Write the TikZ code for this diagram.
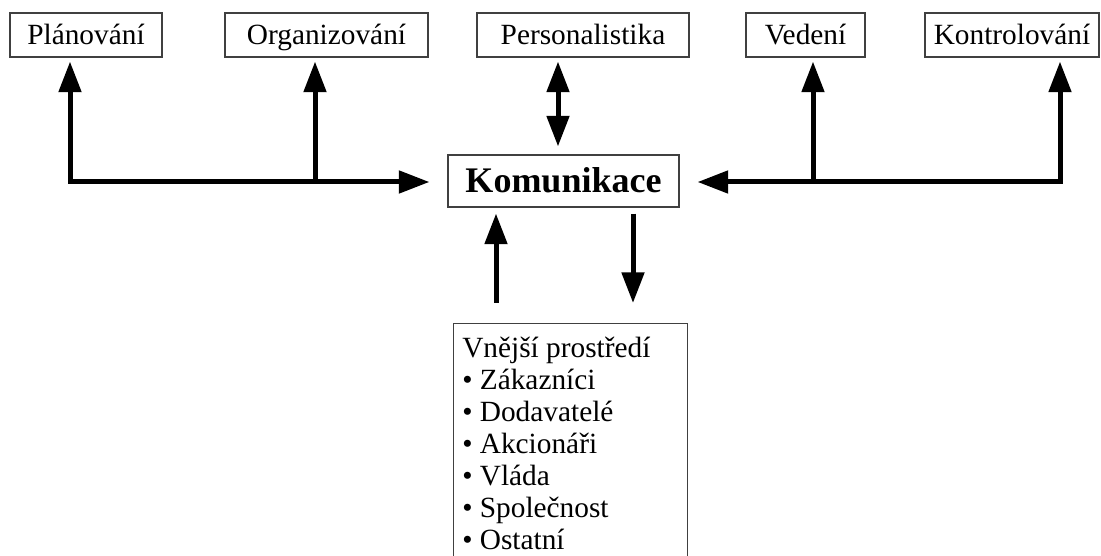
\documentclass[tikz,border=0pt]{standalone}
\usepackage{fontspec}
\setmainfont{Liberation Serif}
\usetikzlibrary{arrows.meta}

\begin{document}
\begin{tikzpicture}[x=0.75pt,y=-0.75pt,
	>={Triangle[length=23pt,width=16.5pt]},
	box/.style={draw=black!75, line width=0.8pt, inner sep=0pt, minimum height=33pt, text height=18pt, text depth=3pt, font=\fontsize{22}{24}\selectfont},
	flow/.style={line width=3.75pt, line join=miter}]
	\useasboundingbox (0,0) rectangle (1101,556);
	% function boxes
	\node (plan) [box, minimum width=114pt] at (86,35) {Plánování};
	\node (org) [box, minimum width=152.25pt] at (326.5,35) {Organizování};
	\node (pers) [box, minimum width=159pt] at (583,35) {Personalistika};
	\node (ved) [box, minimum width=89.25pt] at (805.5,35) {Vedení};
	\node (kontr) [box, minimum width=130.5pt] at (1012,35) {Kontrolování};
	\node (kom) [box, minimum width=173.25pt, minimum height=39pt, text height=20pt, text depth=2pt, font=\fontsize{27}{30}\selectfont\bfseries] at (563.5,181) {Komunikace};
	% outer environment
	\node (env) [box, minimum width=175.5pt, minimum height=190pt, anchor=north west] at (453,323) {};
	\node (envtxt) [anchor=north west, align=left, inner sep=0pt, font=\fontsize{22}{24}\selectfont] at (462,337)
		{Vnější prostředí\\ \textbullet\ Zákazníci\\ \textbullet\ Dodavatelé\\ \textbullet\ Akcionáři\\
		 \textbullet\ Vláda\\ \textbullet\ Společnost\\ \textbullet\ Ostatní};
	% junctions
	\coordinate (jp) at (70,182);
	\coordinate (jo) at (315,182);
	\coordinate (jv) at (813,182);
	\coordinate (jk) at (1060,182);
	\coordinate (xp) at (558,0);
	\coordinate (xu) at (496,0);
	\coordinate (xd) at (633,0);
	% arrows
	\draw [flow, <->, shorten <=3pt, shorten >=13.5pt] (jp |- plan.south) -- (jp) -- (jp -| kom.west);
	\draw [flow, ->, shorten >=3pt] (jo) -- (jo |- org.south);
	\draw [flow, <->, shorten <=3pt, shorten >=13.5pt] (jk |- kontr.south) -- (jk) -- (jk -| kom.east);
	\draw [flow, ->, shorten >=3pt] (jv) -- (jv |- ved.south);
	\draw [flow, <->, shorten <=3pt, shorten >=6pt] (xp |- pers.south) -- (xp |- kom.north);
	\draw [flow, ->, shorten <=15pt, shorten >=4.5pt] (xu |- env.north) -- (xu |- kom.south);
	\draw [flow, ->, shorten <=4.5pt, shorten >=15pt] (xd |- kom.south) -- (xd |- env.north);
\end{tikzpicture}
\end{document}
